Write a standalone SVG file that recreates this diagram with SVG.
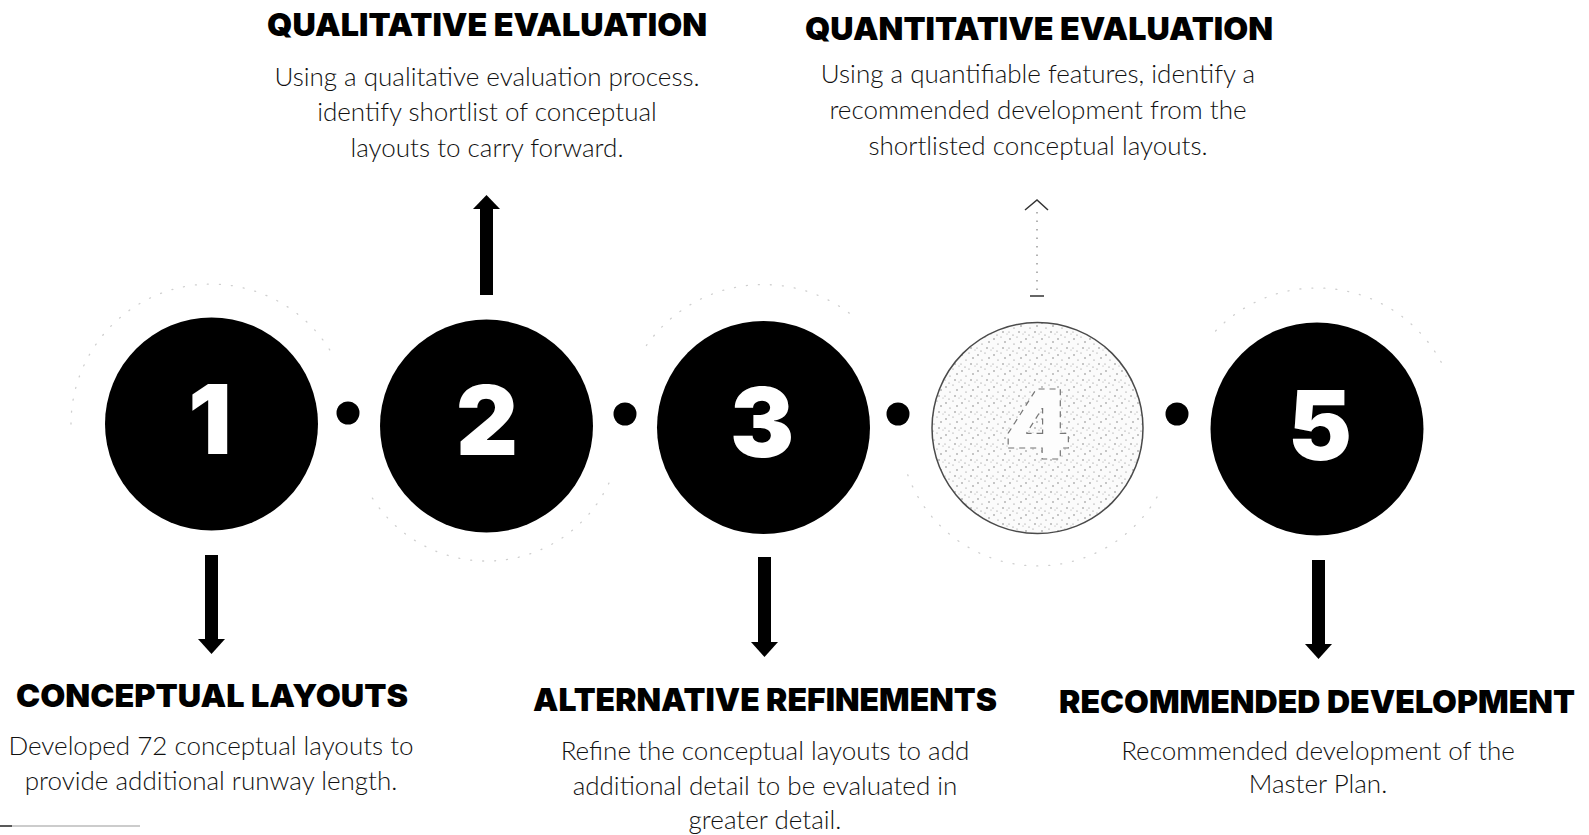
<svg xmlns="http://www.w3.org/2000/svg" width="1589" height="835" viewBox="0 0 1589 835">
  <style>
    .title { font-family: Inter, "Liberation Sans", sans-serif; font-weight: 900; font-size: 32px; fill: #000; text-anchor: middle; }
    .body { font-family: Lato, "Liberation Sans", sans-serif; font-weight: 300; font-size: 26px; fill: #111; text-anchor: middle; }
    .num { font-family: Inter, "Liberation Sans", sans-serif; font-weight: 900; font-size: 96px; fill: #fff; text-anchor: middle; }
    .disc { fill: #000; }
    .ring { fill: none; stroke: #cfcfcf; stroke-width: 1.3; stroke-dasharray: 1 11; stroke-linecap: round; }
    .arrow { fill: #000; }
  </style>
  <defs>
    <pattern id="speck" width="16" height="16" patternUnits="userSpaceOnUse">
      <rect width="16" height="16" fill="#fbfbfb"/>
      <circle cx="2" cy="3" r="0.7" fill="#6a6a6a"/>
      <circle cx="9" cy="1" r="0.6" fill="#888"/>
      <circle cx="13" cy="6" r="0.7" fill="#6a6a6a"/>
      <circle cx="6" cy="8" r="0.6" fill="#7a7a7a"/>
      <circle cx="1" cy="12" r="0.6" fill="#888"/>
      <circle cx="11" cy="12" r="0.7" fill="#6a6a6a"/>
      <circle cx="15" cy="14" r="0.5" fill="#999"/>
      <circle cx="5" cy="15" r="0.6" fill="#7a7a7a"/>
    </pattern>
  </defs>

  <rect width="1589" height="835" fill="#fff"/>

  <!-- faint rings -->
  <g id="rings">
    <path class="ring" d="M71,424 A140,140 0 0 1 332.2,354"/>
    <path class="ring" d="M608.9,483.1 A135,135 0 0 1 372,497.5"/>
    <path class="ring" d="M646.4,345.5 A143,143 0 0 1 855.4,318"/>
    <path class="ring" d="M1157,497 A138,138 0 0 1 906.3,470.6"/>
    <path class="ring" d="M1215.6,331 A141,141 0 0 1 1441.5,362.8"/>
  </g>

  <!-- connectors -->
  <g id="connectors">
    <circle class="disc" cx="348" cy="413" r="11.5"/>
    <circle class="disc" cx="625" cy="414" r="11.5"/>
    <circle class="disc" cx="898" cy="414" r="11.5"/>
    <circle class="disc" cx="1177" cy="414" r="11.5"/>
    <!-- arrow 1 down -->
    <rect class="arrow" x="205" y="555" width="13" height="86"/>
    <polygon class="arrow" points="198,639 225,639 211.5,654"/>
    <!-- arrow 2 up -->
    <rect class="arrow" x="480" y="207" width="13" height="88"/>
    <polygon class="arrow" points="473,209 500,209 486.5,195"/>
    <!-- arrow 3 down -->
    <rect class="arrow" x="758" y="557" width="13" height="86"/>
    <polygon class="arrow" points="751,642 778,642 764.5,657"/>
    <!-- arrow 4 faint up -->
    <line x1="1037" y1="212" x2="1037" y2="293" stroke="#9a9a9a" stroke-width="1.5" stroke-dasharray="1.5 7"/>
    <polyline points="1025,210 1037,200 1048,210" fill="none" stroke="#333" stroke-width="1.5"/>
    <line x1="1030" y1="296" x2="1044" y2="296" stroke="#333" stroke-width="1.5"/>
    <!-- arrow 5 down -->
    <rect class="arrow" x="1312" y="560" width="13" height="85"/>
    <polygon class="arrow" points="1305,644 1332,644 1318.5,659"/>
  </g>

  <g id="step1">
    <circle class="disc" cx="211.5" cy="424" r="106.5"/>
    <text class="num" x="210" y="454">1</text>
  </g>
  <g id="step2">
    <circle class="disc" cx="486.5" cy="426" r="106.5"/>
    <text class="num" x="487" y="455">2</text>
  </g>
  <g id="step3">
    <circle class="disc" cx="763.5" cy="427.5" r="106.5"/>
    <text class="num" x="762" y="457">3</text>
  </g>
  <g id="step4">
    <circle cx="1037.5" cy="428" r="105.5" fill="url(#speck)" stroke="#4a4a4a" stroke-width="1.5"/>
    <text class="num" x="1038" y="459" style="fill:#fdfdfd;stroke:#777;stroke-width:1.2;stroke-dasharray:6 5">4</text>
  </g>
  <g id="step5">
    <circle class="disc" cx="1317" cy="429" r="106.5"/>
    <text class="num" x="1320" y="460">5</text>
  </g>

  <g id="label-qualitative">
    <text class="title" x="487" y="36" textLength="440" lengthAdjust="spacingAndGlyphs">QUALITATIVE EVALUATION</text>
    <text class="body" x="487" y="86">Using a qualitative evaluation process.</text>
    <text class="body" x="487" y="121">identify shortlist of conceptual</text>
    <text class="body" x="487" y="157">layouts to carry forward.</text>
  </g>
  <g id="label-quantitative">
    <text class="title" x="1039" y="40" textLength="468" lengthAdjust="spacingAndGlyphs">QUANTITATIVE EVALUATION</text>
    <text class="body" x="1038" y="83">Using a quantifiable features, identify a</text>
    <text class="body" x="1038" y="119">recommended development from the</text>
    <text class="body" x="1038" y="155">shortlisted conceptual layouts.</text>
  </g>
  <g id="label-conceptual">
    <text class="title" x="212" y="707" textLength="392" lengthAdjust="spacingAndGlyphs">CONCEPTUAL LAYOUTS</text>
    <text class="body" x="211" y="755">Developed 72 conceptual layouts to</text>
    <text class="body" x="211" y="790">provide additional runway length.</text>
  </g>
  <g id="label-alternative">
    <text class="title" x="765" y="711" textLength="464" lengthAdjust="spacingAndGlyphs">ALTERNATIVE REFINEMENTS</text>
    <text class="body" x="765" y="760">Refine the conceptual layouts to add</text>
    <text class="body" x="765" y="795">additional detail to be evaluated in</text>
    <text class="body" x="765" y="829">greater detail.</text>
  </g>
  <g id="label-recommended">
    <text class="title" x="1317" y="713" textLength="516" lengthAdjust="spacingAndGlyphs">RECOMMENDED DEVELOPMENT</text>
    <text class="body" x="1318" y="760">Recommended development of the</text>
    <text class="body" x="1318" y="793">Master Plan.</text>
  </g>

  <g id="corner-mark">
    <line x1="0" y1="826" x2="140" y2="826" stroke="#999" stroke-width="1"/>
    <line x1="0" y1="826" x2="12" y2="826" stroke="#333" stroke-width="1.5"/>
  </g>
</svg>
